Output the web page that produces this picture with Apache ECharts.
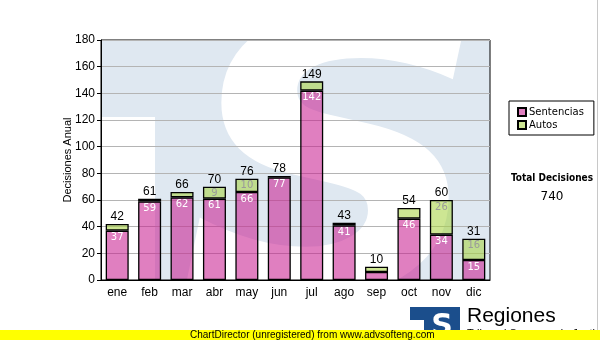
<!DOCTYPE html>
<html>
<head>
<meta charset="utf-8">
<script src="https://cdn.jsdelivr.net/npm/echarts@6/dist/echarts.min.js"></script>
<style>
  html, body { margin: 0; padding: 0; background: #fff; }
  #chart { width: 600px; height: 340px; }
</style>
</head>
<body>
<div id="chart"></div>
<script>
// Monthly decisions, split by type
const months = ['ene', 'feb', 'mar', 'abr', 'may', 'jun', 'jul', 'ago', 'sep', 'oct', 'nov', 'dic'];
const sentencias = [37, 59, 62, 61, 66, 77, 142, 41, 6, 46, 34, 15];
const autos = [5, 2, 4, 9, 10, 1, 7, 2, 4, 8, 26, 16];
const yTicks = { min: 0, max: 180, interval: 20 };

const totals = months.map((m, i) => sentencias[i] + autos[i]);
const grandTotal = totals.reduce((a, b) => a + b, 0);

// segments too short to hold a readable number get no inner label
const MIN_LABELLED = 9;
const withLabels = (arr) => arr.map(v => ({ value: v, label: { show: v >= MIN_LABELLED } }));

const PLOT = { left: 101, top: 40, right: 490, bottom: 280 };

const chart = echarts.init(document.getElementById('chart'), null, { renderer: 'canvas' });

chart.setOption({
  animation: false,
  backgroundColor: '#ffffff',
  textStyle: { fontFamily: '"Liberation Sans", Arial, sans-serif' },
  grid: {
    left: PLOT.left, top: PLOT.top,
    width: PLOT.right - PLOT.left, height: PLOT.bottom - PLOT.top,
    show: true, borderColor: '#000', borderWidth: 1, backgroundColor: 'transparent'
  },
  legend: {
    data: ['Sentencias', 'Autos'],
    orient: 'vertical',
    left: 509, top: 101,
    width: 84,
    padding: [6, 10, 5, 8],
    itemWidth: 8, itemHeight: 8, itemGap: 3,
    borderColor: '#000', borderWidth: 1, backgroundColor: '#fff',
    icon: 'rect',
    textStyle: { fontFamily: '"DejaVu Sans", Verdana, sans-serif', fontSize: 10, color: '#000', padding: [0, 0, 0, -2] },
    selectedMode: false
  },
  xAxis: {
    type: 'category',
    data: months,
    axisLine: { lineStyle: { color: '#000', width: 1 } },
    axisTick: { alignWithLabel: true, length: 4, lineStyle: { color: '#000' } },
    axisLabel: { color: '#000', fontSize: 12, margin: 7 }
  },
  yAxis: {
    type: 'value',
    min: yTicks.min, max: yTicks.max, interval: yTicks.interval,
    name: 'Decisiones Anual',
    nameLocation: 'middle',
    nameGap: 28,
    nameMoveOverlap: false,
    nameTextStyle: { color: '#000', fontSize: 11 },
    axisLine: { show: true, lineStyle: { color: '#000', width: 1 } },
    axisTick: { show: true, length: 4, lineStyle: { color: '#000' } },
    axisLabel: { color: '#000', fontSize: 12, margin: 6 },
    splitLine: { lineStyle: { color: '#b4b4b4', width: 1 } }
  },
  series: [
    {
      name: 'Sentencias',
      type: 'bar',
      stack: 'total',
      barWidth: 23,
      data: withLabels(sentencias),
      itemStyle: { color: 'rgba(200,26,142,0.56)', borderColor: '#000', borderWidth: 1.3 },
      label: {
        position: 'insideTop', distance: 2, color: '#fff',
        fontFamily: '"DejaVu Sans", Verdana, sans-serif', fontSize: 10
      },
      z: 3
    },
    {
      name: 'Autos',
      type: 'bar',
      stack: 'total',
      barWidth: 23,
      data: withLabels(autos),
      itemStyle: { color: 'rgba(166,211,62,0.56)', borderColor: '#000', borderWidth: 1.3 },
      label: {
        position: 'insideTop', distance: 2, color: '#9a9a9a',
        fontFamily: '"DejaVu Sans", Verdana, sans-serif', fontSize: 10
      },
      z: 3
    },
    {
      // zero-height cap carrying the monthly total above each stack
      name: 'Total',
      type: 'bar',
      stack: 'total',
      barWidth: 23,
      data: months.map(() => 0),
      itemStyle: { color: 'transparent', borderWidth: 0 },
      label: {
        show: true, position: 'top', distance: 1, color: '#000', fontSize: 12,
        formatter: (p) => String(totals[p.dataIndex])
      },
      z: 4
    }
  ],
  graphic: [
    // faint emblem behind the plot
    {
      type: 'group', z: -10, silent: true,
      children: [
        { type: 'rect', z: -10, shape: { x: PLOT.left, y: PLOT.top, width: PLOT.right - PLOT.left, height: PLOT.bottom - PLOT.top },
          style: { fill: '#dfe8f1' } },
        { type: 'rect', z: -9, shape: { x: PLOT.left, y: 117, width: 54, height: PLOT.bottom - 117 },
          style: { fill: '#ffffff' } },
        { type: 'text', z: -8, x: 335, y: 193, scaleX: 1.1, scaleY: 1,
          style: { text: 'S', font: 'italic bold 390px "DejaVu Sans"', fill: '#ffffff', textAlign: 'center', textVerticalAlign: 'middle' } }
      ]
    },
    {
      type: 'text', z: 10,
      style: { text: 'Total Decisiones', x: 552, y: 178, font: 'bold 10px "DejaVu Sans Condensed", "DejaVu Sans", sans-serif', fill: '#000', textAlign: 'center', textVerticalAlign: 'middle' }
    },
    {
      type: 'text', z: 10,
      style: { text: String(grandTotal), x: 552, y: 197, font: '12px "DejaVu Sans", Tahoma, sans-serif', fill: '#000', textAlign: 'center', textVerticalAlign: 'middle' }
    },
    // right edge rule
    { type: 'rect', z: 10, shape: { x: 597, y: 0, width: 1, height: 330 }, style: { fill: '#c8c8c8' } },
    // footer logo
    { type: 'rect', z: 10, shape: { x: 410, y: 307, width: 50, height: 33 }, style: { fill: '#1b4e8c' } },
    { type: 'rect', z: 11, shape: { x: 410, y: 320, width: 14, height: 20 }, style: { fill: '#ffffff' } },
    { type: 'text', z: 12, x: 442, y: 327, style: { text: 'S', font: 'bold 30px "DejaVu Sans"', fill: '#ffffff', textAlign: 'center', textVerticalAlign: 'middle' } },
    { type: 'text', z: 10, style: { text: 'Regiones', x: 467, y: 316, font: '21px "Liberation Sans", Arial, sans-serif', fill: '#000', textVerticalAlign: 'middle' } },
    { type: 'text', z: 10, style: { text: 'Tribunal Supremo de Justicia', x: 467, y: 334, font: '11px "Liberation Sans", Arial, sans-serif', fill: '#000', textVerticalAlign: 'middle' } },
    // unregistered banner
    { type: 'rect', z: 20, shape: { x: 0, y: 330, width: 600, height: 10 }, style: { fill: '#ffff00' } },
    { type: 'text', z: 21, style: { text: 'ChartDirector (unregistered) from www.advsofteng.com', x: 190, y: 335, font: '10px "Liberation Sans", Arial, sans-serif', fill: '#000', textVerticalAlign: 'middle' } }
  ]
});
</script>
</body>
</html>
